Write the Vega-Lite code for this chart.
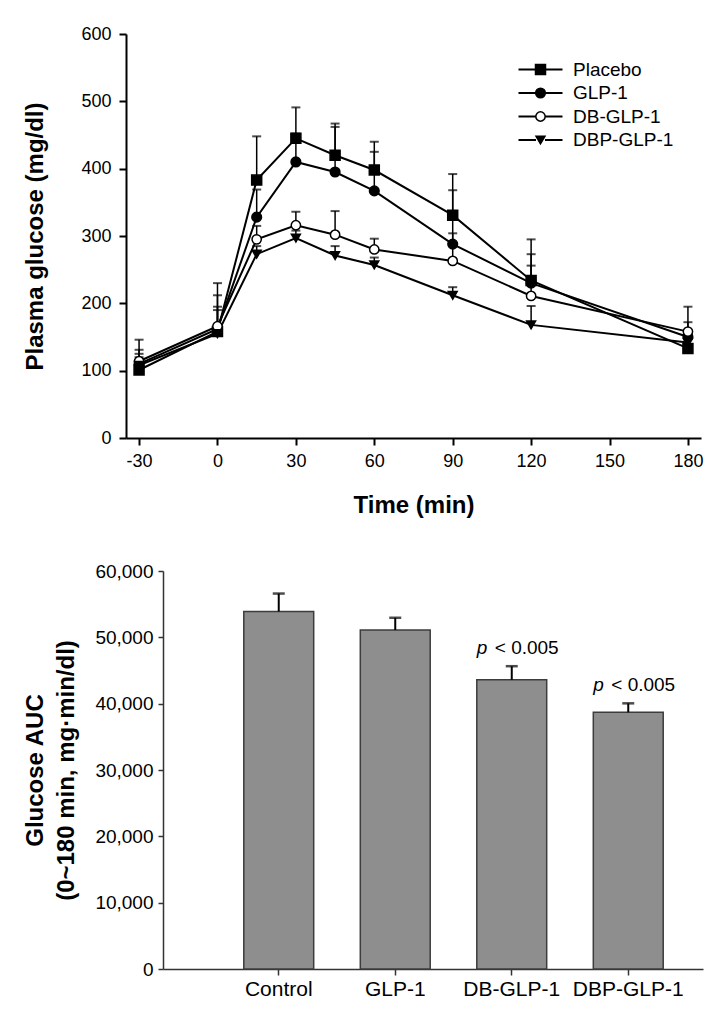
{
  "$schema": "https://vega.github.io/schema/vega-lite/v6.json",
  "background": "white",
  "padding": {"left": 23, "top": 25, "right": 5, "bottom": 5},
  "spacing": 45,
  "resolve": {"scale": {"shape": "independent", "fill": "independent", "size": "independent", "opacity": "independent"}, "legend": {"shape": "independent", "fill": "independent", "size": "independent", "opacity": "independent"}},
  "config": {
    "font": "Liberation Sans",
    "view": {"stroke": null},
    "axis": {"grid": false, "labelFont": "Liberation Sans", "titleFont": "Liberation Sans", "labelColor": "black", "titleColor": "black", "labelFlush": false, "labelOverlap": false}
  },
  "vconcat": [
    {
      "width": 538,
      "height": 404,
      "data": {"values": [
        {"group": "Placebo", "time": -30, "glucose": 101, "upper": 146},
        {"group": "Placebo", "time": 0, "glucose": 158, "upper": 230},
        {"group": "Placebo", "time": 15, "glucose": 383, "upper": 448},
        {"group": "Placebo", "time": 30, "glucose": 445, "upper": 491},
        {"group": "Placebo", "time": 45, "glucose": 420, "upper": 467},
        {"group": "Placebo", "time": 60, "glucose": 398, "upper": 440},
        {"group": "Placebo", "time": 90, "glucose": 331, "upper": 392},
        {"group": "Placebo", "time": 120, "glucose": 234, "upper": 295},
        {"group": "Placebo", "time": 180, "glucose": 133, "upper": 158},
        {"group": "GLP-1", "time": -30, "glucose": 110, "upper": 131},
        {"group": "GLP-1", "time": 0, "glucose": 162, "upper": 212},
        {"group": "GLP-1", "time": 15, "glucose": 328, "upper": 369},
        {"group": "GLP-1", "time": 30, "glucose": 410, "upper": 452},
        {"group": "GLP-1", "time": 45, "glucose": 395, "upper": 462},
        {"group": "GLP-1", "time": 60, "glucose": 367, "upper": 425},
        {"group": "GLP-1", "time": 90, "glucose": 288, "upper": 368},
        {"group": "GLP-1", "time": 120, "glucose": 230, "upper": 273},
        {"group": "GLP-1", "time": 180, "glucose": 150, "upper": 172},
        {"group": "DB-GLP-1", "time": -30, "glucose": 114, "upper": 125},
        {"group": "DB-GLP-1", "time": 0, "glucose": 166, "upper": 195},
        {"group": "DB-GLP-1", "time": 15, "glucose": 295, "upper": 315},
        {"group": "DB-GLP-1", "time": 30, "glucose": 316, "upper": 336},
        {"group": "DB-GLP-1", "time": 45, "glucose": 302, "upper": 337},
        {"group": "DB-GLP-1", "time": 60, "glucose": 280, "upper": 296},
        {"group": "DB-GLP-1", "time": 90, "glucose": 263, "upper": 304},
        {"group": "DB-GLP-1", "time": 120, "glucose": 211, "upper": 256},
        {"group": "DB-GLP-1", "time": 180, "glucose": 158, "upper": 195},
        {"group": "DBP-GLP-1", "time": -30, "glucose": 108, "upper": 120},
        {"group": "DBP-GLP-1", "time": 0, "glucose": 155, "upper": 190},
        {"group": "DBP-GLP-1", "time": 15, "glucose": 273, "upper": 285},
        {"group": "DBP-GLP-1", "time": 30, "glucose": 297, "upper": 308},
        {"group": "DBP-GLP-1", "time": 45, "glucose": 271, "upper": 285},
        {"group": "DBP-GLP-1", "time": 60, "glucose": 257, "upper": 268},
        {"group": "DBP-GLP-1", "time": 90, "glucose": 212, "upper": 224},
        {"group": "DBP-GLP-1", "time": 120, "glucose": 168, "upper": 196},
        {"group": "DBP-GLP-1", "time": 180, "glucose": 142, "upper": 152}
      ]},
      "encoding": {
        "x": {"field": "time", "type": "quantitative",
          "scale": {"domain": [-35, 185], "range": [-37, 538], "nice": false, "zero": false},
          "axis": {"values": [-30, 0, 30, 60, 90, 120, 150, 180], "labelExpr": "'' + datum.value", "title": "Time (min)", "titleFontSize": 24, "titleFontWeight": "bold", "titlePadding": 23, "titleX": 250.5,
            "labelFontSize": 18, "labelPadding": 7, "tickSize": 7, "tickWidth": 2, "tickColor": "black", "domainWidth": 2, "domainColor": "black"}},
        "y": {"field": "glucose", "type": "quantitative",
          "scale": {"domain": [0, 600], "nice": false},
          "axis": {"values": [0, 100, 200, 300, 400, 500, 600], "offset": 37, "title": "Plasma glucose (mg/dl)", "titleFontSize": 24, "titleFontWeight": "bold", "titlePadding": 33,
            "labelFontSize": 18, "labelPadding": 8, "tickSize": 7, "tickWidth": 2, "tickColor": "black", "domainWidth": 2, "domainColor": "black"}}
      },
      "layer": [
        {"mark": {"type": "line", "color": "black", "strokeWidth": 2, "clip": false}, "encoding": {"detail": {"field": "group", "type": "nominal"}}},
        {"mark": {"type": "rule", "color": "black", "strokeWidth": 1.5}, "encoding": {"y2": {"field": "upper"}}},
        {"mark": {"type": "tick", "orient": "horizontal", "color": "black", "size": 9, "thickness": 2}, "encoding": {"y": {"field": "upper", "type": "quantitative"}}},
        {"mark": {"type": "point", "filled": true, "stroke": "black", "strokeWidth": 1.5, "opacity": 1, "fillOpacity": 1, "strokeOpacity": 1},
          "encoding": {
            "opacity": {"field": "group", "type": "nominal",
              "scale": {"domain": ["DBP-GLP-1", "DB-GLP-1", "GLP-1", "Placebo"], "range": [1, 1, 1, 1]},
              "legend": {"orient": "none", "legendX": 368, "legendY": 26, "title": null, "labelFontSize": 19, "labelColor": "transparent", "symbolSize": 100, "labelOffset": 23, "rowPadding": 3.5, "padding": 0,
                "symbolType": "M-4.4,0H-0.9M0.9,0H4.4", "symbolStrokeColor": "black", "symbolStrokeWidth": 2, "symbolFillColor": "transparent"}},
            "shape": {"field": "group", "type": "nominal",
              "scale": {"domain": ["Placebo", "GLP-1", "DB-GLP-1", "DBP-GLP-1"], "range": ["square", "circle", "circle", "triangle-down"]},
              "legend": {"orient": "none", "legendX": 368, "legendY": 26, "title": null, "labelFontSize": 19, "labelColor": "black", "labelOffset": 23, "rowPadding": 3.5, "padding": 0,
                "symbolStrokeColor": "black", "symbolStrokeWidth": 1.5, "symbolOpacity": 1}},
            "fill": {"field": "group", "type": "nominal",
              "scale": {"domain": ["Placebo", "GLP-1", "DB-GLP-1", "DBP-GLP-1"], "range": ["black", "black", "white", "black"]}},
            "size": {"field": "group", "type": "nominal",
              "scale": {"domain": ["Placebo", "GLP-1", "DB-GLP-1", "DBP-GLP-1"], "range": [100, 80, 70, 100]}}
          }}
      ]
    },
    {
      "width": 540,
      "height": 398,
      "data": {"values": [
        {"treatment": "Control", "auc": 53900, "upper": 56600, "sig": ""},
        {"treatment": "GLP-1", "auc": 51100, "upper": 52950, "sig": ""},
        {"treatment": "DB-GLP-1", "auc": 43600, "upper": 45650, "sig": "< 0.005"},
        {"treatment": "DBP-GLP-1", "auc": 38700, "upper": 40050, "sig": "< 0.005"}
      ]},
      "encoding": {
        "x": {"field": "treatment", "type": "nominal", "sort": null,
          "scale": {"paddingInner": 0.4, "paddingOuter": 0.5175, "align": 0.67},
          "axis": {"title": null, "labelAngle": 0, "labelFontSize": 21, "labelPadding": 3, "tickSize": 6, "tickWidth": 1.5, "tickColor": "#333", "domainWidth": 1.5, "domainColor": "#333"}}
      },
      "layer": [
        {"mark": {"type": "bar", "fill": "#8e8e8e", "stroke": "#3c3c3c", "strokeWidth": 1.5},
          "encoding": {"y": {"field": "auc", "type": "quantitative",
            "scale": {"domain": [0, 60000], "nice": false},
            "axis": {"values": [0, 10000, 20000, 30000, 40000, 50000, 60000], "format": ",d",
              "title": ["Glucose AUC", "(0~180 min, mg·min/dl)"], "titleFontSize": 24, "titleFontWeight": "bold", "titleLineHeight": 31, "titlePadding": 16,
              "labelFontSize": 19, "labelPadding": 5, "tickSize": 5, "tickWidth": 1.5, "tickColor": "#333", "domainWidth": 1.5, "domainColor": "#333"}}}},
        {"mark": {"type": "rule", "color": "black", "strokeWidth": 2}, "encoding": {"y": {"field": "auc", "type": "quantitative"}, "y2": {"field": "upper"}}},
        {"mark": {"type": "tick", "orient": "horizontal", "color": "black", "size": 12, "thickness": 2.5}, "encoding": {"y": {"field": "upper", "type": "quantitative"}}},
        {"transform": [{"filter": "datum.sig != ''"}],
          "mark": {"type": "text", "text": "p", "fontStyle": "italic", "fontSize": 19, "align": "left", "baseline": "alphabetic", "dx": -35, "dy": -12, "color": "black"},
          "encoding": {"y": {"field": "upper", "type": "quantitative"}}},
        {"transform": [{"filter": "datum.sig != ''"}],
          "mark": {"type": "text", "fontSize": 19, "align": "left", "baseline": "alphabetic", "dx": -17, "dy": -12, "color": "black"},
          "encoding": {"y": {"field": "upper", "type": "quantitative"}, "text": {"field": "sig", "type": "nominal"}}}
      ]
    }
  ]
}
